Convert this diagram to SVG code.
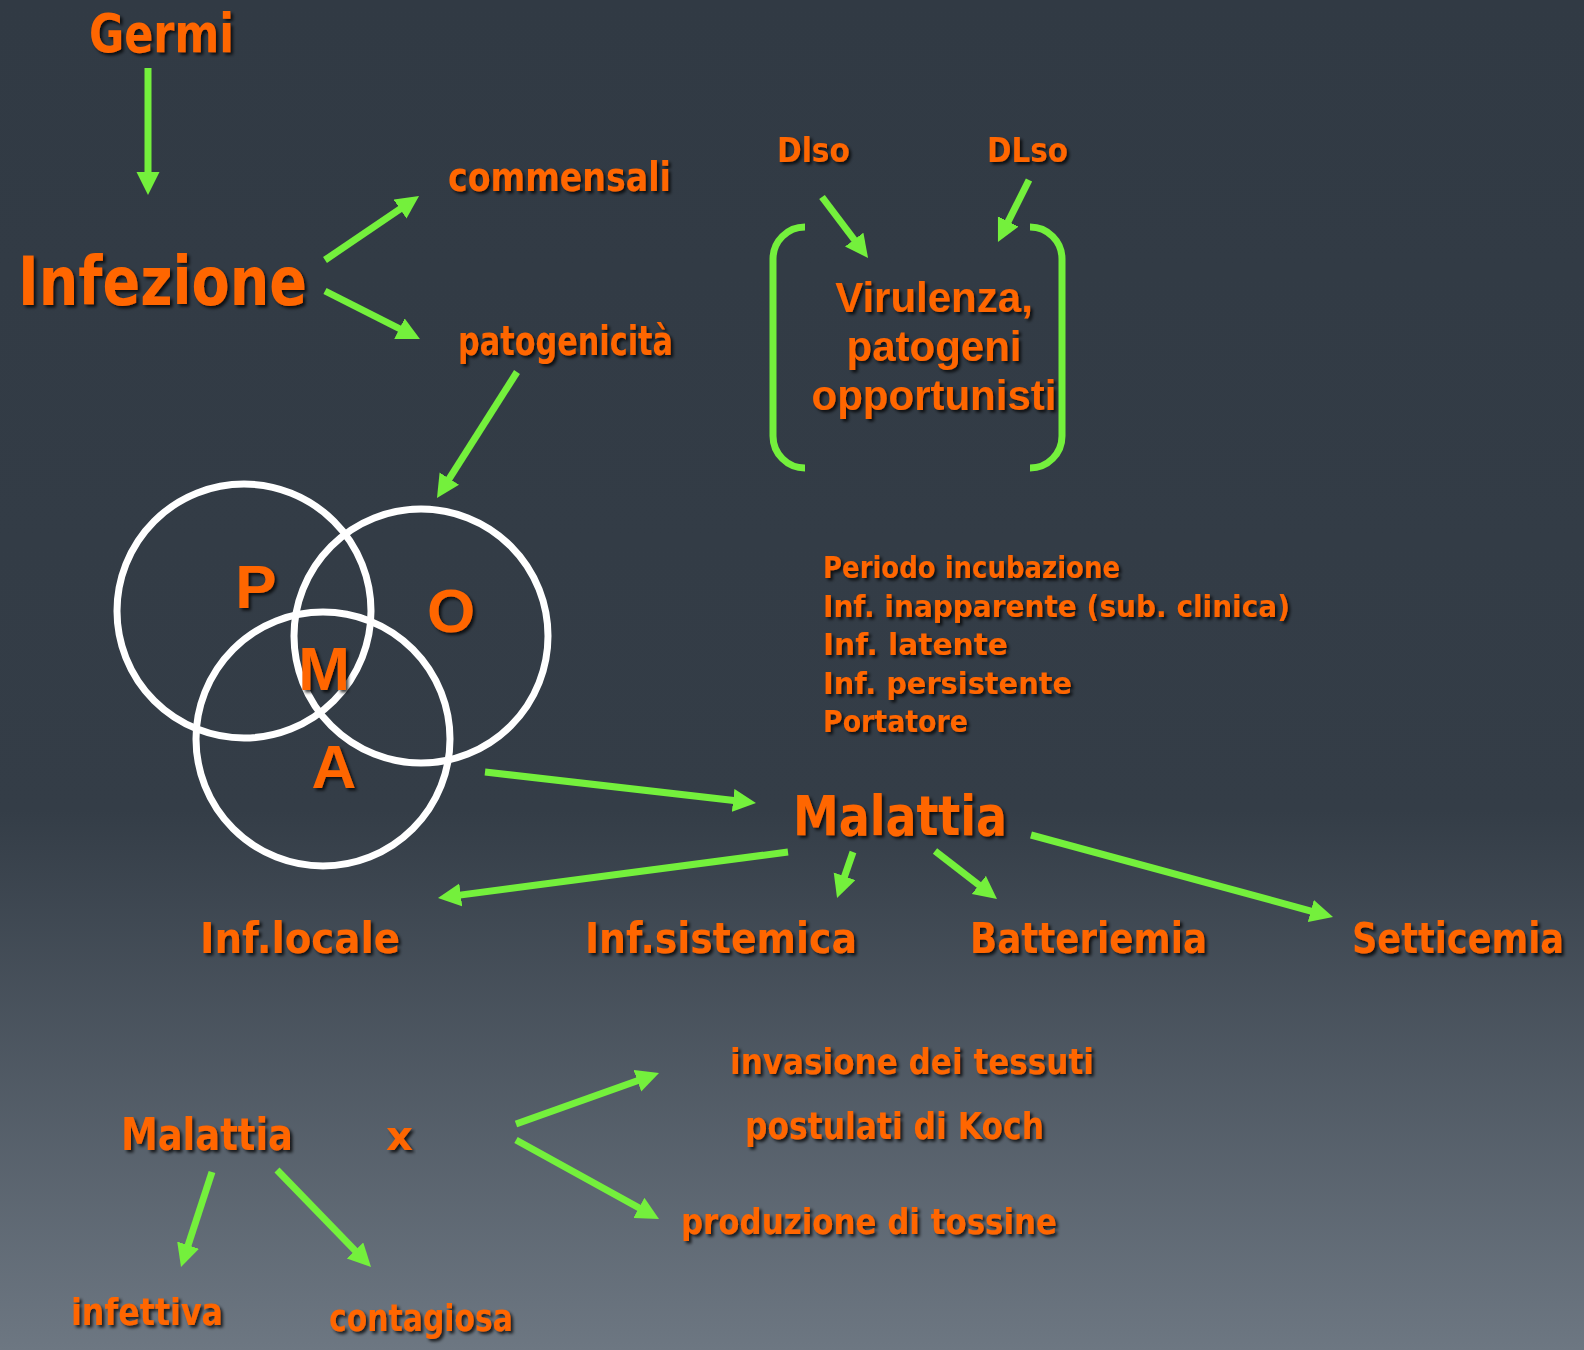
<svg xmlns="http://www.w3.org/2000/svg" width="1584" height="1350" viewBox="0 0 1584 1350">
<defs>
<linearGradient id="bg" x1="0" y1="0" x2="0" y2="1">
<stop offset="0" stop-color="#313a44"/>
<stop offset="0.6" stop-color="#343d47"/>
<stop offset="1" stop-color="#6d7782"/>
</linearGradient>
<filter id="sh" x="-5%" y="-20%" width="112%" height="150%">
<feDropShadow dx="2.5" dy="2.5" stdDeviation="1.5" flood-color="#000" flood-opacity="0.75"/>
</filter>
<marker id="ah" markerUnits="userSpaceOnUse" markerWidth="24" markerHeight="24" refX="3" refY="11.5" orient="auto">
<path d="M0,0 L23,11.5 L0,23 z" fill="#74f03c"/>
</marker>
<style>
.c{font-family:"DejaVu Sans",sans-serif;font-weight:bold;fill:#ff6600;filter:url(#sh)}
.a{font-family:"Liberation Sans",Arial,sans-serif;font-weight:bold;fill:#ff6600;filter:url(#sh)}
.ln{stroke:#74f03c;stroke-width:7;fill:none;marker-end:url(#ah)}
.br{stroke:#74f03c;stroke-width:7;fill:none}
.ci{stroke:#ffffff;stroke-width:7;fill:none}
</style>
</defs>
<rect width="1584" height="1350" fill="url(#bg)"/>

<g id="connectors">
<line class="ln" x1="148" y1="68" x2="148" y2="175"/>
<line class="ln" x1="325" y1="260" x2="402.5" y2="207.3"/>
<line class="ln" x1="325" y1="291" x2="402.1" y2="330"/>
<line class="ln" x1="517" y1="372" x2="447.7" y2="481.1"/>
<line class="ln" x1="822" y1="197" x2="856" y2="242"/>
<line class="ln" x1="1029" y1="180" x2="1006.9" y2="224.1"/>
<line class="ln" x1="485" y1="772" x2="736.1" y2="800.7"/>
<line class="ln" x1="788" y1="852" x2="457.8" y2="895.4"/>
<line class="ln" x1="853" y1="852" x2="843.6" y2="879.1"/>
<line class="ln" x1="935" y1="851" x2="981.2" y2="886.8"/>
<line class="ln" x1="1031" y1="835" x2="1313.7" y2="911.8"/>
<line class="ln" x1="212" y1="1172" x2="187.2" y2="1248"/>
<line class="ln" x1="277" y1="1170" x2="357.1" y2="1252.6"/>
<line class="ln" x1="516" y1="1124" x2="640.2" y2="1079.7"/>
<line class="ln" x1="516" y1="1140" x2="641.5" y2="1209.3"/>
</g>

<g id="germi"><text class="c" x="89" y="52" font-size="54" textLength="145" lengthAdjust="spacingAndGlyphs">Germi</text></g>
<g id="infezione"><text class="c" x="18" y="305" font-size="67" textLength="289" lengthAdjust="spacingAndGlyphs">Infezione</text></g>
<g id="commensali"><text class="c" x="448" y="191" font-size="40" textLength="223" lengthAdjust="spacingAndGlyphs">commensali</text></g>
<g id="patogenicita"><text class="c" x="458" y="355" font-size="40" textLength="215" lengthAdjust="spacingAndGlyphs">patogenicità</text></g>

<g id="dlso1"><text class="c" x="777" y="162" font-size="33" textLength="73" lengthAdjust="spacingAndGlyphs">Dlso</text></g>
<g id="dlso2"><text class="c" x="987" y="162" font-size="33" textLength="81" lengthAdjust="spacingAndGlyphs">DLso</text></g>

<g id="virulenza">
<path class="br" d="M805,227 A32,32 0 0 0 773,259 V436 A32,32 0 0 0 805,468"/>
<path class="br" d="M1030,227 A32,32 0 0 1 1062,259 V436 A32,32 0 0 1 1030,468"/>
<text class="a" font-size="42" text-anchor="middle"><tspan x="934" y="312">Virulenza,</tspan><tspan x="934" y="361">patogeni</tspan><tspan x="934" y="410">opportunisti</tspan></text>
</g>

<g id="venn">
<circle class="ci" cx="244" cy="611" r="127"/>
<circle class="ci" cx="421" cy="636" r="127"/>
<circle class="ci" cx="323" cy="739" r="127"/>
<text class="a" font-size="62" text-anchor="middle" x="256" y="608">P</text>
<text class="a" font-size="62" text-anchor="middle" x="451" y="632">O</text>
<text class="a" font-size="62" text-anchor="middle" x="324" y="690">M</text>
<text class="a" font-size="62" text-anchor="middle" x="334" y="788">A</text>
</g>

<g id="lista">
<text class="c" x="823" y="578" font-size="31" textLength="297" lengthAdjust="spacingAndGlyphs">Periodo incubazione</text>
<text class="c" x="823" y="616.5" font-size="31" textLength="467" lengthAdjust="spacingAndGlyphs">Inf. inapparente (sub. clinica)</text>
<text class="c" x="823" y="655" font-size="31" textLength="185" lengthAdjust="spacingAndGlyphs">Inf. latente</text>
<text class="c" x="823" y="693.5" font-size="31" textLength="249" lengthAdjust="spacingAndGlyphs">Inf. persistente</text>
<text class="c" x="823" y="732" font-size="31" textLength="145" lengthAdjust="spacingAndGlyphs">Portatore</text>
</g>

<g id="malattia"><text class="c" x="793" y="835" font-size="55" textLength="214" lengthAdjust="spacingAndGlyphs">Malattia</text></g>
<g id="inflocale"><text class="c" x="200" y="953" font-size="43" textLength="200" lengthAdjust="spacingAndGlyphs">Inf.locale</text></g>
<g id="infsistemica"><text class="c" x="585" y="953" font-size="43" textLength="272" lengthAdjust="spacingAndGlyphs">Inf.sistemica</text></g>
<g id="batteriemia"><text class="c" x="970" y="953" font-size="43" textLength="237" lengthAdjust="spacingAndGlyphs">Batteriemia</text></g>
<g id="setticemia" transform="translate(1352 953) scale(1 1.2)"><text class="c" x="0" y="0" font-size="35" textLength="212" lengthAdjust="spacingAndGlyphs">Setticemia</text></g>

<g id="malattia2"><text class="c" x="121" y="1150" font-size="44" textLength="172" lengthAdjust="spacingAndGlyphs">Malattia</text></g>
<g id="x"><text class="c" x="386" y="1150" font-size="40" textLength="27" lengthAdjust="spacingAndGlyphs">x</text></g>
<g id="infettiva"><text class="c" x="71" y="1325" font-size="38" textLength="152" lengthAdjust="spacingAndGlyphs">infettiva</text></g>
<g id="contagiosa"><text class="c" x="329" y="1331" font-size="38" textLength="184" lengthAdjust="spacingAndGlyphs">contagiosa</text></g>
<g id="invasione"><text class="c" x="730" y="1074" font-size="36" textLength="364" lengthAdjust="spacingAndGlyphs">invasione dei tessuti</text></g>
<g id="koch"><text class="c" x="745" y="1139" font-size="38" textLength="299" lengthAdjust="spacingAndGlyphs">postulati di Koch</text></g>
<g id="tossine"><text class="c" x="681" y="1234" font-size="36" textLength="376" lengthAdjust="spacingAndGlyphs">produzione di tossine</text></g>
</svg>
